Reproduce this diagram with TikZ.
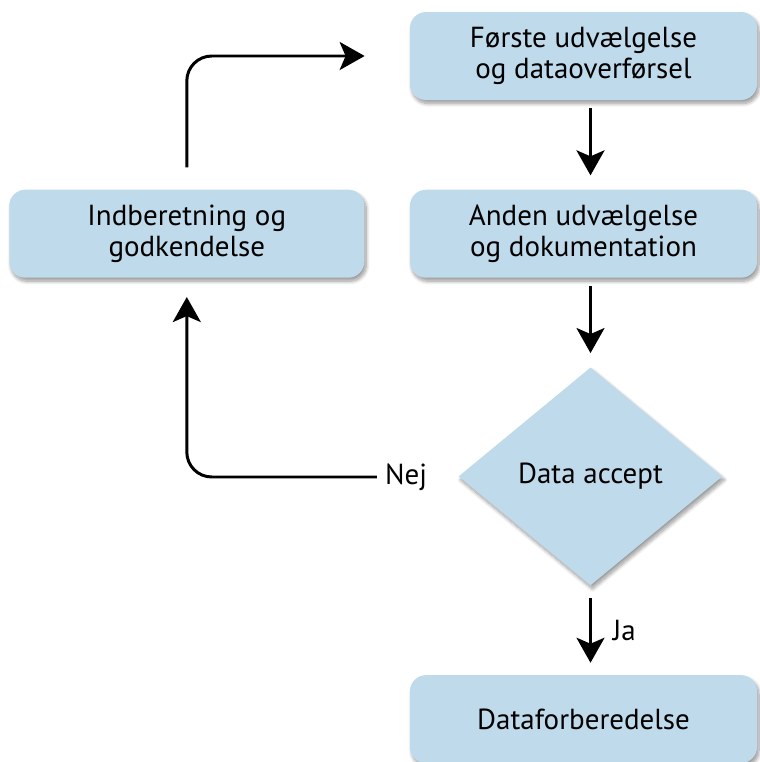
\documentclass[tikz,border=0pt]{standalone}
\usepackage{fontspec}
\setmainfont{PT Sans}
\usepackage{tikz}
\usetikzlibrary{shapes.geometric, arrows.meta, positioning, calc, shadows.blur}
\definecolor{boxblue}{HTML}{BFDAEA}
\begin{document}
\begin{tikzpicture}[
    node distance=1.78cm,
    every node/.style={font=\fontsize{16.5}{17.5}\selectfont},
    box/.style={rounded corners=0.32cm, fill=boxblue, minimum width=6.94cm, minimum height=1.76cm, align=center,
        blur shadow={shadow xshift=0.04cm, shadow yshift=-0.07cm, shadow blur steps=10, shadow opacity=40}},
    decision/.style={diamond, fill=boxblue, minimum width=5.28cm, minimum height=4.36cm, inner sep=0pt, align=center,
        blur shadow={shadow xshift=0.04cm, shadow yshift=-0.07cm, shadow blur steps=10, shadow opacity=40}},
    flow/.style={-{Stealth[length=0.5cm, width=0.56cm, inset=0.12cm]}, line width=1.7pt}
]
    \useasboundingbox (0,0) rectangle (15.18,-15.24);

    \node[box] (first) at (11.67,-1.12) {Første udvælgelse\\og dataoverførsel};
    \node[box, below=of first] (second) {Anden udvælgelse\\og dokumentation};
    \node[decision, below=of second, xshift=0.14cm] (accept) {Data accept};
    \node[box, below=of accept, xshift=-0.14cm] (prep) {Dataforberedelse};
    \node[box, minimum width=7.1cm, left=0.9cm of second] (report) {Indberetning og\\godkendelse};

    \node (nej) at (8.12,-9.54) {Nej};

    % vertical arrows all run at the diamond's x
    \draw[flow, shorten <=0.16cm, shorten >=0.28cm] (first.south -| accept.center) -- (second.north -| accept.center);
    \draw[flow, shorten <=0.16cm, shorten >=0.28cm] (second.south -| accept.center) -- (accept.north);
    \draw[flow, shorten <=0.24cm, shorten >=0.24cm] (accept.south) -- node[right=0.3cm] {Ja} (prep.north -| accept.center);
    \draw[flow, rounded corners=0.5cm, shorten <=0.04cm, shorten >=0.38cm] (nej.west) -| (report.south);
    \draw[flow, rounded corners=0.5cm, shorten <=0.44cm, shorten >=0.9cm] (report.north) |- (first.west);
\end{tikzpicture}
\end{document}
